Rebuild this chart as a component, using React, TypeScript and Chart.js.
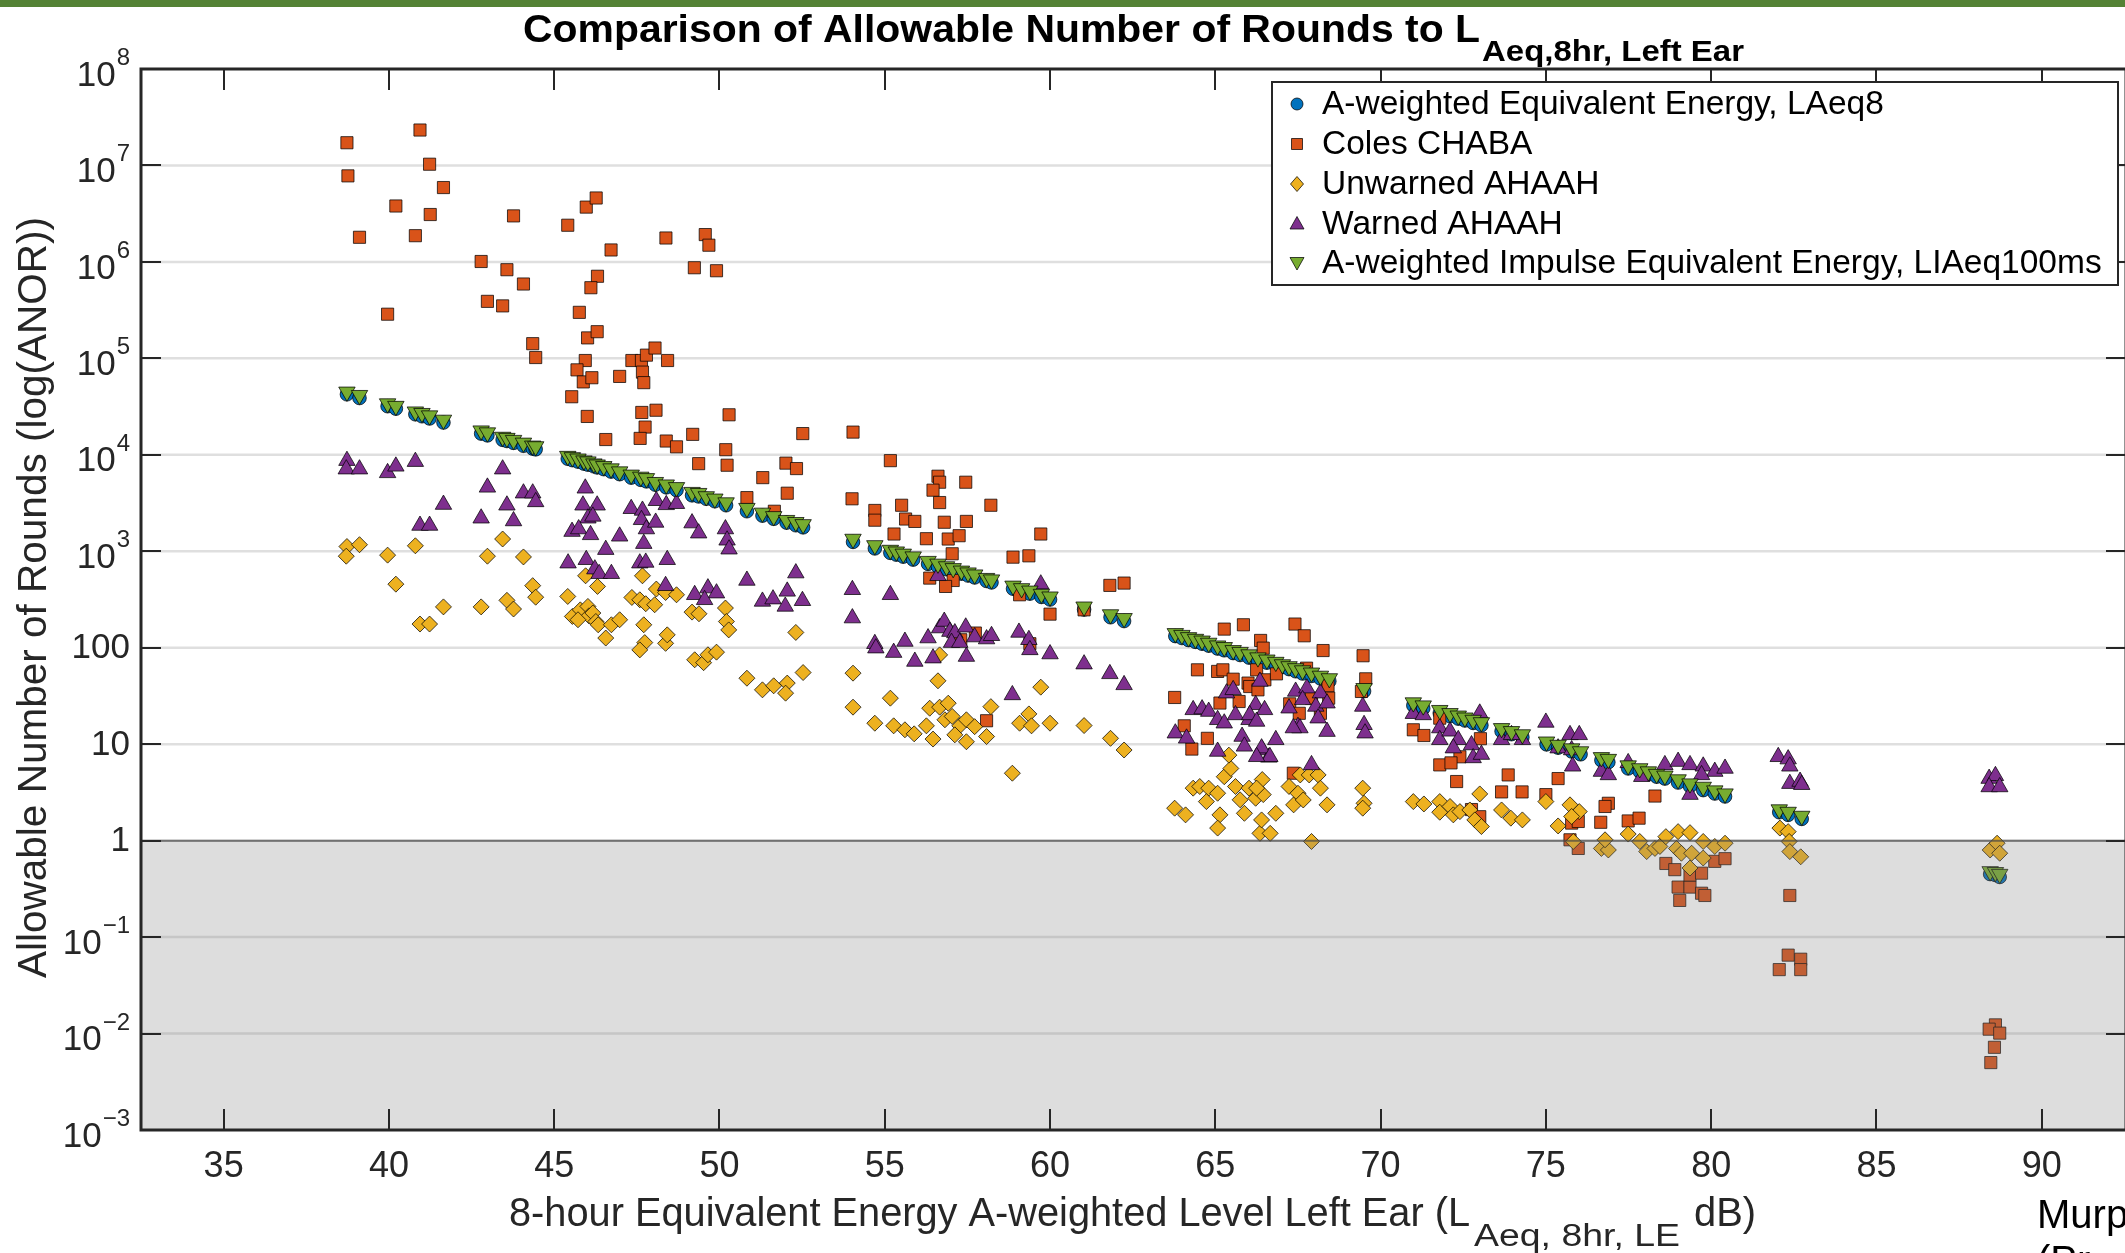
import React, { useEffect, useRef } from "react";
import { Chart, registerables } from "chart.js";

Chart.register(...registerables);

// ---------- axis ticks ----------
const xTickValues = [35, 40, 45, 50, 55, 60, 65, 70, 75, 80, 85, 90];
const yTickValues = [1e-3, 1e-2, 1e-1, 1, 10, 100, 1e3, 1e4, 1e5, 1e6, 1e7, 1e8];
const yTickLabels = ["10^-3", "10^-2", "10^-1", "1", "10", "100", "10^3", "10^4", "10^5", "10^6", "10^7", "10^8"];

// ---------- data ----------
// LAeq,8hr levels of the exposures (x of the LAeq8 / LIAeq100ms series)
const laeqLevels = [
  38.73, 39.11, 39.96, 40.21, 40.8, 41.0, 41.23, 41.65, 42.79, 42.98, 43.44, 43.57, 43.77, 44.07, 44.35, 44.44,
  45.41, 45.55, 45.72, 45.9, 46.02, 46.2, 46.3, 46.5, 46.72, 46.98, 47.33, 47.62, 47.79, 48.06, 48.39, 48.7, 49.17, 49.37, 49.6, 49.86, 50.2, 50.83, 51.3, 51.64, 52.03, 52.31, 52.53,
  54.04, 54.7, 55.17, 55.35, 55.56, 55.86, 56.31, 56.61, 56.87, 57.07, 57.32, 57.52, 57.72, 58.08, 58.23, 58.88, 59.14, 59.39, 59.74, 60.0, 61.03, 61.83, 62.24,
  63.79, 63.99, 64.19, 64.4, 64.6, 64.8, 65.07, 65.27, 65.54, 65.75, 66.02, 66.29, 66.56, 66.83, 67.03, 67.23, 67.43, 67.64, 67.91, 68.18, 68.45, 69.5,
  70.99, 71.29, 71.79, 72.1, 72.35, 72.55, 72.8, 73.05, 73.66, 73.96, 74.29,
  75.02, 75.37, 75.78, 76.05, 76.68, 76.89, 77.49, 77.84, 78.1, 78.35, 78.6, 79.0, 79.36, 79.76, 80.11, 80.42,
  82.06, 82.33, 82.74, 88.44, 88.6, 88.73,
];
const laeq8Rounds = [
  42400, 38800, 31900, 30100, 26300, 25100, 23800, 21600, 16600, 15900, 14300, 13900, 13300, 12400, 11600, 11400,
  9100, 8800, 8500, 8100, 7900, 7600, 7400, 7100, 6700, 6300, 5800, 5500, 5300, 4900, 4600, 4300, 3800, 3700, 3500, 3300, 3000, 2600, 2340, 2170, 1980, 1860, 1770,
  1250, 1070, 962, 923, 879, 820, 740, 690, 650, 621, 586, 560, 535, 492, 475, 409, 385, 364, 336, 316, 249, 207, 189,
  132, 126, 120, 115, 110, 105, 98, 94, 88, 84, 79, 74, 70, 66, 63, 60, 57, 54, 51, 48, 45, 35.5,
  25.2, 23.5, 21.0, 19.5, 18.4, 17.6, 16.6, 15.7, 13.6, 12.7, 11.8,
  9.95, 9.2, 8.4, 7.85, 6.8, 6.5, 5.6, 5.2, 4.9, 4.6, 4.4, 4.0, 3.66, 3.34, 3.08, 2.87,
  1.97, 1.85, 1.68, 0.45, 0.44, 0.42,
];
const liaeqRounds = [
  45000, 41500, 34000, 32000, 28000, 27000, 25500, 23000, 17800, 17000, 15300, 14900, 14200, 13300, 12400, 12200,
  9700, 9400, 9100, 8700, 8500, 8100, 7900, 7600, 7200, 6700, 6200, 5900, 5700, 5200, 4900, 4600, 4100, 4000, 3700, 3500, 3200, 2800, 2500, 2300, 2100, 2000, 1900,
  1340, 1150, 1030, 990, 940, 880, 790, 740, 695, 665, 627, 600, 572, 526, 508, 438, 412, 389, 360, 338, 266, 221, 202,
  141, 135, 128, 123, 118, 112, 105, 101, 94, 90, 85, 79, 75, 71, 67, 64, 61, 58, 55, 51, 48, 38,
  27, 25.1, 22.5, 20.9, 19.7, 18.8, 17.8, 16.8, 14.6, 13.6, 12.6,
  10.6, 9.8, 9.0, 8.4, 7.3, 7.0, 6.0, 5.6, 5.2, 4.9, 4.7, 4.3, 3.9, 3.6, 3.3, 3.07,
  2.1, 1.98, 1.8, 0.48, 0.47, 0.45,
];

// Coles CHABA  [level, rounds]
const colesChaba = [
  [38.73, 1.72e7], [38.76, 7.8e6], [39.11, 1.8e6], [39.96, 2.87e5], [40.21, 3.8e6], [40.8, 1.87e6], [40.94, 2.33e7], [41.23, 1.03e7], [41.25, 3.1e6], [41.65, 5.9e6],
  [42.79, 1.01e6], [42.98, 3.9e5], [43.44, 3.5e5], [43.57, 8.3e5], [43.77, 3.0e6], [44.07, 5.9e5], [44.35, 1.42e5], [44.44, 1.02e5],
  [45.41, 2.4e6], [45.97, 3.7e6], [46.27, 4.6e6], [46.72, 1.33e6], [46.31, 7.1e5], [46.11, 5.4e5], [45.76, 3.0e5], [46.01, 1.63e5], [46.3, 1.89e5], [45.94, 9.5e4], [45.69, 7.6e4], [45.88, 5.7e4], [46.14, 6.3e4], [45.53, 4.0e4], [46.0, 2.5e4], [46.56, 1.44e4], [46.98, 6.5e4],
  [47.35, 9.5e4], [47.64, 9.5e4], [47.79, 1.08e5], [48.05, 1.28e5], [47.67, 7.2e4], [47.71, 5.6e4], [48.43, 9.5e4], [47.65, 2.75e4], [48.08, 2.9e4], [47.75, 1.94e4], [47.6, 1.48e4], [48.39, 1.39e4], [48.7, 1.21e4],
  [48.38, 1.77e6], [49.24, 8.7e5], [49.57, 1.92e6], [49.68, 1.49e6], [49.91, 8.1e5], [49.19, 1.63e4], [49.37, 8.1e3], [50.19, 1.13e4], [50.29, 2.6e4], [50.23, 7.8e3], [50.83, 3.6e3], [51.31, 5.8e3], [51.66, 2.6e3], [52.01, 8.2e3], [52.33, 7.2e3], [52.05, 4.0e3], [52.52, 1.66e4],
  [54.04, 1.72e4], [54.01, 3.5e3], [55.17, 8.7e3], [56.61, 6.0e3], [56.66, 5.2e3], [56.46, 4.3e3], [56.66, 3.2e3], [57.45, 5.2e3], [55.51, 3.0e3], [54.7, 2.65e3], [54.7, 2.1e3], [55.63, 2.16e3], [55.91, 2.04e3], [56.8, 2.0e3], [57.47, 2.04e3], [58.21, 3.0e3],
  [55.28, 1.51e3], [56.26, 1.35e3], [56.92, 1.34e3], [57.25, 1.45e3], [57.04, 942], [59.72, 1.51e3], [58.88, 869], [59.36, 897], [56.36, 527], [57.07, 498], [56.84, 432], [59.08, 354], [60.0, 223], [61.81, 443], [62.24, 468], [61.03, 247], [57.74, 142], [57.3, 121], [59.39, 110], [58.08, 17.5],
  [63.77, 30.5], [65.27, 156], [65.85, 173], [67.41, 176], [67.69, 133], [68.26, 93.5], [69.47, 82.6], [66.37, 119], [66.45, 99], [64.46, 59], [65.07, 56.8], [65.23, 59], [65.54, 47.2], [65.99, 43], [66.25, 59], [66.5, 46.5], [66.85, 53.6], [66.04, 39.6], [67.76, 61.4], [68.41, 40.3],
  [64.06, 15.5], [64.29, 8.9], [64.76, 11.5], [65.14, 26.7], [65.72, 27.7], [66.29, 36.6], [67.91, 30], [68.43, 30], [67.25, 26.2], [67.54, 20.9], [68.18, 20.9], [69.55, 47.6], [69.42, 35.2], [67.36, 5.0],
  [70.99, 14.1], [71.31, 12.3], [71.79, 18.6], [73.02, 11.4], [72.4, 7.4], [71.79, 6.1], [72.13, 6.4], [72.3, 4.1], [73.66, 3.2], [73.86, 4.8], [72.75, 2.1], [73.0, 1.77], [74.28, 3.2], [75.0, 3.0], [75.37, 4.4],
  [75.78, 1.52], [75.98, 1.58], [75.73, 1.02], [75.98, 0.83], [76.89, 2.44], [76.79, 2.26], [76.66, 1.55], [77.49, 1.6], [77.82, 1.71], [78.3, 2.9], [78.63, 0.58], [78.9, 0.5], [79.0, 0.33], [79.36, 0.33], [79.36, 0.44],
  [79.71, 0.46], [79.71, 0.285], [79.05, 0.24], [79.81, 0.27], [80.11, 0.61], [80.42, 0.65],
  [82.38, 0.27], [82.33, 0.065], [82.06, 0.046], [82.71, 0.059], [82.71, 0.046], [88.6, 0.0123], [88.41, 0.0111], [88.73, 0.0101], [88.57, 0.0072], [88.46, 0.005],
];

// Unwarned AHAAH  [level, rounds]
const unwarnedAhaah = [
  [38.73, 1120], [38.71, 889], [39.11, 1170], [39.96, 912], [40.21, 456], [40.8, 1140], [40.94, 176], [41.23, 176], [41.65, 265], [42.79, 265], [42.98, 889], [43.44, 1340], [43.57, 310], [43.77, 252], [44.07, 873], [44.35, 440], [44.44, 334],
  [45.41, 340], [45.95, 557], [46.31, 432], [45.55, 211], [45.79, 247], [46.02, 268], [46.05, 214], [45.72, 195], [46.17, 229], [46.26, 187], [46.33, 173], [46.56, 126], [46.73, 173], [46.98, 195],
  [47.67, 557], [47.35, 332], [47.59, 314], [47.77, 286], [48.04, 279], [48.09, 406], [48.37, 374], [48.7, 354], [47.71, 173], [47.74, 113], [47.59, 95], [48.37, 111], [48.42, 136],
  [49.17, 234], [49.38, 225], [50.18, 258], [50.21, 187], [50.28, 153], [49.25, 75], [49.52, 70], [49.65, 84.5], [49.91, 90], [52.31, 144], [52.53, 55.3], [50.83, 48.3], [51.3, 36.6], [51.64, 40.3], [52.05, 43], [52.0, 33.8],
  [54.04, 54.5], [54.04, 24.2], [55.17, 30], [54.7, 16.5], [55.27, 15.5], [55.61, 14.1], [55.89, 12.8], [56.26, 15.5], [56.46, 11.3], [56.61, 45.4], [56.66, 84.3], [56.36, 23.6], [56.66, 24.2], [56.92, 26.6], [56.82, 17.9],
  [57.04, 19.4], [57.27, 15.5], [57.47, 17.9], [57.72, 15.2], [57.12, 12.5], [57.47, 10.6], [58.08, 12], [58.21, 24.5], [59.08, 16.5], [59.36, 20.6], [59.44, 15.5], [59.72, 39], [60.0, 16.5], [58.86, 5.0], [61.03, 15.6], [61.83, 11.5], [62.24, 8.7],
  [63.77, 2.17], [64.1, 1.85], [64.33, 3.5], [64.53, 3.64], [64.8, 3.5], [64.73, 2.54], [65.07, 3.1], [65.27, 4.6], [65.47, 5.6], [65.41, 7.7], [65.14, 1.85], [65.07, 1.35], [65.61, 3.64], [65.75, 2.65], [65.88, 1.92],
  [66.02, 3.5], [66.22, 2.75], [66.42, 4.3], [66.35, 1.19], [66.66, 1.19], [66.45, 3.0], [66.83, 1.92], [67.23, 3.64], [67.37, 2.35], [67.57, 4.8], [67.84, 4.8], [68.11, 4.8], [68.18, 3.5], [68.38, 2.35], [67.91, 0.98],
  [67.5, 3.1], [67.66, 2.64], [66.25, 3.5], [66.4, 1.64], [69.46, 3.5], [69.5, 2.44], [69.46, 2.17],
  [70.99, 2.54], [71.31, 2.4], [71.79, 2.54], [71.79, 1.97], [72.1, 2.26], [72.2, 1.85], [72.4, 2.0], [72.7, 2.08], [72.85, 1.64], [73.05, 1.4], [73.0, 3.05], [73.66, 2.08], [73.94, 1.71], [74.29, 1.64],
  [75.0, 2.54], [75.37, 1.42], [75.73, 2.35], [76.01, 2.0], [75.78, 1.78], [75.83, 0.98], [76.68, 0.83], [76.89, 0.8], [76.79, 1.02], [77.49, 1.17], [77.84, 0.98], [78.05, 0.77], [78.3, 0.83], [78.45, 0.87], [78.63, 1.1],
  [78.95, 0.83], [79.0, 1.24], [79.36, 1.21], [79.1, 0.74], [79.41, 0.74], [79.36, 0.52], [79.76, 0.98], [79.76, 0.66], [80.11, 0.87], [80.42, 0.94],
  [82.08, 1.35], [82.33, 1.24], [82.36, 0.98], [82.38, 0.77], [82.71, 0.68], [88.44, 0.8], [88.65, 0.94], [88.73, 0.74],
];

// Warned AHAAH  [level, rounds]
const warnedAhaah = [
  [38.73, 8700], [38.71, 7100], [39.11, 7100], [39.96, 6500], [40.21, 7600], [40.8, 8500], [40.94, 1850], [41.23, 1850], [41.65, 3050], [42.79, 2200], [42.98, 4600], [43.44, 7100], [43.57, 3000], [43.77, 2060], [44.07, 4000], [44.35, 4000], [44.44, 3250],
  [45.94, 4500], [45.87, 3000], [46.3, 3000], [46.02, 2200], [46.17, 2300], [45.54, 1600], [45.74, 1700], [46.1, 1480], [46.98, 1430], [46.56, 1040], [45.42, 753], [45.97, 817], [46.23, 653], [46.36, 585], [46.73, 585],
  [47.33, 2760], [47.67, 2650], [47.64, 2120], [47.79, 1700], [48.07, 1990], [48.09, 3340], [48.39, 3030], [48.7, 3110], [47.71, 1200], [47.59, 753], [47.77, 766], [48.42, 817], [48.37, 439],
  [49.17, 1960], [49.37, 1540], [50.18, 1700], [50.23, 1300], [50.29, 1050], [49.25, 354], [49.65, 415], [49.91, 368], [49.55, 314], [50.83, 498], [51.3, 302], [51.62, 319], [52.05, 384], [52.31, 594], [51.99, 268], [52.51, 307],
  [54.02, 399], [54.02, 203], [55.17, 354], [54.7, 110], [54.73, 99], [55.61, 116], [55.27, 89], [55.91, 72], [56.31, 126], [56.46, 78], [56.66, 160], [56.8, 187], [56.97, 147], [57.12, 142], [57.02, 113], [57.27, 113],
  [57.45, 163], [57.72, 129], [57.47, 81], [58.08, 123], [58.23, 133], [56.61, 557], [59.06, 144], [59.36, 121], [59.39, 95], [59.72, 456], [60.0, 86], [58.86, 32.4], [61.03, 67.6], [61.81, 53.6], [62.24, 41.2],
  [63.79, 13], [64.13, 11.5], [64.33, 22.7], [64.6, 23.1], [64.8, 21.8], [65.07, 17.9], [65.07, 8.4], [65.27, 16.5], [65.34, 33.8], [65.54, 36.6], [65.61, 20.1], [65.81, 12], [65.88, 9.5], [66.02, 17.9], [66.22, 25.6],
  [66.35, 44.7], [66.49, 22.7], [66.42, 8.7], [66.62, 7.3], [66.83, 11.1], [67.43, 35.2], [67.77, 38.1], [68.18, 33.8], [67.23, 23.6], [67.64, 28.8], [68.04, 24.6], [68.38, 26.6], [67.5, 15.2], [68.11, 18.6], [68.38, 13.5],
  [67.91, 6.1], [69.46, 24.6], [69.5, 15.9], [69.53, 13], [66.04, 20.1], [66.25, 17.2], [66.4, 9.1], [66.65, 7.4], [66.25, 7.4], [67.56, 14.7], [67.36, 14.7],
  [70.99, 20.7], [71.29, 20.1], [71.79, 14.7], [71.79, 11.1], [72.1, 13.6], [72.35, 11.1], [72.2, 9.1], [72.75, 9.8], [72.8, 7.2], [73.05, 7.8], [73.0, 20.9], [73.66, 11.1], [74.29, 11.1], [73.96, 12.5],
  [75.0, 16.8], [75.73, 12.5], [76.01, 12.5], [75.37, 9.1], [75.78, 8.7], [75.81, 5.9], [76.68, 5.2], [76.89, 4.8], [77.49, 6.4], [77.9, 4.6], [78.6, 6.1], [79.0, 6.6], [79.36, 6.1], [79.76, 5.9], [80.11, 5.2], [80.42, 5.6],
  [79.71, 4.8], [79.36, 3.0], [82.03, 7.4], [82.33, 7.0], [82.38, 5.9], [82.38, 3.9], [82.69, 4.1], [82.74, 3.8], [88.41, 4.4], [88.6, 4.7], [88.41, 3.6], [88.73, 3.6],
];

// ---------- styling ----------
const FONT = '"Liberation Sans", Arial, Helvetica, sans-serif';
const AXIS = "#262626";
const EDGE = "rgba(0,0,0,0.72)";
const C_BLUE = "#0072BD";
const C_ORANGE = "#D95319";
const C_YELLOW = "#EDB120";
const C_PURPLE = "#7E2F8E";
const C_GREEN = "#77AC30";

const legendItems = [
  { label: "A-weighted Equivalent Energy, LAeq8", style: "circle", color: C_BLUE },
  { label: "Coles CHABA", style: "rect", color: C_ORANGE },
  { label: "Unwarned AHAAH", style: "diamond", color: C_YELLOW },
  { label: "Warned AHAAH", style: "triUp", color: C_PURPLE },
  { label: "A-weighted Impulse Equivalent Energy, LIAeq100ms", style: "triDown", color: C_GREEN },
];

function fitText(ctx: CanvasRenderingContext2D, text: string, x: number, y: number, w: number, font: string) {
  ctx.font = font;
  const m = ctx.measureText(text).width;
  ctx.save();
  ctx.translate(x, y);
  ctx.scale(w / m, 1);
  ctx.fillText(text, 0, 0);
  ctx.restore();
}

function marker(ctx: CanvasRenderingContext2D, style: string, x: number, y: number, color: string) {
  ctx.beginPath();
  if (style === "circle") {
    ctx.arc(x, y, 6, 0, Math.PI * 2);
  } else if (style === "rect") {
    ctx.rect(x - 5.5, y - 5.5, 11, 11);
  } else if (style === "diamond") {
    ctx.moveTo(x, y - 7.5);
    ctx.lineTo(x + 6.5, y);
    ctx.lineTo(x, y + 7.5);
    ctx.lineTo(x - 6.5, y);
    ctx.closePath();
  } else if (style === "triUp") {
    ctx.moveTo(x, y - 7);
    ctx.lineTo(x + 7, y + 5.5);
    ctx.lineTo(x - 7, y + 5.5);
    ctx.closePath();
  } else {
    ctx.moveTo(x, y + 7);
    ctx.lineTo(x + 7, y - 5.5);
    ctx.lineTo(x - 7, y - 5.5);
    ctx.closePath();
  }
  ctx.fillStyle = color;
  ctx.fill();
  ctx.lineWidth = 1;
  ctx.strokeStyle = EDGE;
  ctx.stroke();
}

const decorPlugin = {
  id: "matlabDecor",
  beforeDatasetsDraw(chart: any) {
    const { ctx, chartArea: a } = chart;
    const ys = chart.scales.y;
    ctx.save();
    ctx.strokeStyle = "rgba(38,38,38,0.15)";
    ctx.lineWidth = 2.5;
    ctx.beginPath();
    for (const v of yTickValues) {
      const py = ys.getPixelForValue(v);
      if (py <= a.top + 2 || py >= a.bottom - 2) continue;
      ctx.moveTo(a.left, py);
      ctx.lineTo(a.right, py);
    }
    ctx.stroke();
    ctx.restore();
  },
  afterDatasetsDraw(chart: any) {
    const { ctx, chartArea: a } = chart;
    const ys = chart.scales.y;
    const p1 = ys.getPixelForValue(1);
    ctx.save();
    ctx.fillStyle = "rgba(128,128,128,0.27)";
    ctx.fillRect(a.left, p1, a.right - a.left, a.bottom - p1);
    ctx.strokeStyle = "rgba(70,70,70,0.7)";
    ctx.lineWidth = 2;
    ctx.beginPath();
    ctx.moveTo(a.left, p1);
    ctx.lineTo(a.right, p1);
    ctx.stroke();
    ctx.restore();
  },
  afterDraw(chart: any) {
    const { ctx, chartArea: a } = chart;
    const xs = chart.scales.x;
    const ys = chart.scales.y;
    ctx.save();

    // top green band
    ctx.fillStyle = "#548235";
    ctx.fillRect(0, 0, chart.width, 7);

    // axes box
    ctx.strokeStyle = AXIS;
    ctx.lineWidth = 3;
    ctx.strokeRect(a.left, a.top, a.right - a.left, a.bottom - a.top);

    // ticks
    ctx.lineWidth = 2;
    ctx.beginPath();
    for (const v of xTickValues) {
      const px = Math.round(xs.getPixelForValue(v));
      ctx.moveTo(px, a.bottom);
      ctx.lineTo(px, a.bottom - 21);
      ctx.moveTo(px, a.top);
      ctx.lineTo(px, a.top + 21);
    }
    for (const v of yTickValues) {
      const py = Math.round(ys.getPixelForValue(v));
      ctx.moveTo(a.left, py);
      ctx.lineTo(a.left + 20, py);
      ctx.moveTo(a.right, py);
      ctx.lineTo(a.right - 20, py);
    }
    ctx.stroke();

    // x tick labels
    ctx.fillStyle = AXIS;
    ctx.font = `36px ${FONT}`;
    ctx.textAlign = "center";
    ctx.textBaseline = "alphabetic";
    for (const v of xTickValues) {
      ctx.fillText(String(v), xs.getPixelForValue(v), 1177);
    }

    // y tick labels
    const xr = 130;
    yTickValues.forEach((v, i) => {
      const lab = yTickLabels[i];
      const py = ys.getPixelForValue(v);
      if (lab.includes("^")) {
        const [base, exp0] = lab.split("^");
        const exp = exp0.replace("-", "\u2212");
        ctx.font = `24px ${FONT}`;
        const we = ctx.measureText(exp).width;
        ctx.textAlign = "left";
        ctx.textBaseline = "alphabetic";
        ctx.fillText(exp, xr - we, py - 4);
        ctx.font = `35px ${FONT}`;
        ctx.textAlign = "right";
        ctx.textBaseline = "middle";
        ctx.fillText(base, xr - we - 1, py + 7);
      } else {
        ctx.font = `35px ${FONT}`;
        ctx.textAlign = "right";
        ctx.textBaseline = "middle";
        ctx.fillText(lab, xr, py + 1);
      }
    });

    // axis labels
    ctx.textAlign = "left";
    ctx.textBaseline = "alphabetic";
    ctx.fillStyle = AXIS;
    fitText(ctx, "8-hour Equivalent Energy A-weighted Level Left Ear (L", 509, 1226, 961, `41px ${FONT}`);
    fitText(ctx, "Aeq, 8hr, LE", 1474, 1246, 206, `31px ${FONT}`);
    fitText(ctx, "dB)", 1694, 1226, 62, `41px ${FONT}`);

    ctx.save();
    ctx.translate(46, 597.5);
    ctx.rotate(-Math.PI / 2);
    fitText(ctx, "Allowable Number of Rounds (log(ANOR))", -380.5, 0, 761, `40px ${FONT}`);
    ctx.restore();

    // title
    ctx.fillStyle = "#000";
    fitText(ctx, "Comparison of Allowable Number of Rounds to L", 523, 42, 957, `bold 39px ${FONT}`);
    fitText(ctx, "Aeq,8hr, Left Ear", 1482, 61, 262, `bold 29px ${FONT}`);

    // legend
    const lx = 1272, ly = 82, lw = 846, lh = 203;
    ctx.fillStyle = "#fff";
    ctx.fillRect(lx, ly, lw, lh);
    ctx.strokeStyle = AXIS;
    ctx.lineWidth = 2;
    ctx.strokeRect(lx, ly, lw, lh);
    const rows = [104, 144, 184, 223.5, 263];
    legendItems.forEach((it, i) => {
      marker(ctx, it.style, 1297, rows[i], it.color);
      ctx.fillStyle = "#000";
      ctx.font = `33.5px ${FONT}`;
      ctx.textAlign = "left";
      ctx.textBaseline = "middle";
      ctx.fillText(it.label, 1322, rows[i] + 1);
    });

    // cropped side note
    ctx.fillStyle = "#000";
    ctx.font = `40px ${FONT}`;
    ctx.textAlign = "left";
    ctx.textBaseline = "alphabetic";
    ctx.fillText("Murphy", 2037, 1228);
    ctx.fillText("(Pr", 2037, 1274);

    ctx.restore();
  },
};

function toPoints(pairs: number[][]) {
  return pairs.map(([x, y]) => ({ x, y }));
}

export default function App() {
  const ref = useRef<HTMLCanvasElement | null>(null);

  useEffect(() => {
    const canvas = ref.current;
    if (!canvas) return;
    const blue = laeqLevels.map((x, i) => ({ x, y: laeq8Rounds[i] }));
    const green = laeqLevels.map((x, i) => ({ x, y: liaeqRounds[i] }));
    const common = { borderColor: EDGE, borderWidth: 1, showLine: false };
    const chart = new Chart(canvas, {
      type: "scatter",
      data: {
        datasets: [
          { ...common, label: legendItems[0].label, data: blue, pointStyle: "circle", pointRadius: 6.8, backgroundColor: C_BLUE, order: 5 },
          { ...common, label: legendItems[1].label, data: toPoints(colesChaba), pointStyle: "rect", pointRadius: 8.6, backgroundColor: C_ORANGE, order: 4 },
          { ...common, label: legendItems[2].label, data: toPoints(unwarnedAhaah), pointStyle: "rectRot", pointRadius: 8, backgroundColor: C_YELLOW, order: 3 },
          { ...common, label: legendItems[3].label, data: toPoints(warnedAhaah), pointStyle: "triangle", pointRadius: 9.5, backgroundColor: C_PURPLE, order: 2 },
          { ...common, label: legendItems[4].label, data: green, pointStyle: "triangle", pointRotation: 180, pointRadius: 9.5, backgroundColor: C_GREEN, order: 1 },
        ] as any,
      },
      options: {
        responsive: false,
        animation: false,
        devicePixelRatio: 1,
        events: [],
        layout: { padding: { left: 141, top: 69, right: 14, bottom: 123 } },
        scales: {
          x: { type: "linear", min: 32.5, max: 92.55, display: false },
          y: { type: "logarithmic", min: 1e-3, max: 1e8, display: false },
        },
        plugins: { legend: { display: false }, tooltip: { enabled: false }, title: { display: false } },
      } as any,
      plugins: [decorPlugin],
    });
    return () => chart.destroy();
  }, []);

  return (
    <div style={{ position: "fixed", left: 0, top: 0, width: 2125, height: 1253, overflow: "hidden", background: "#fff" }}>
      <canvas ref={ref} width={2140} height={1253} style={{ display: "block", width: 2140, height: 1253 }} />
    </div>
  );
}
